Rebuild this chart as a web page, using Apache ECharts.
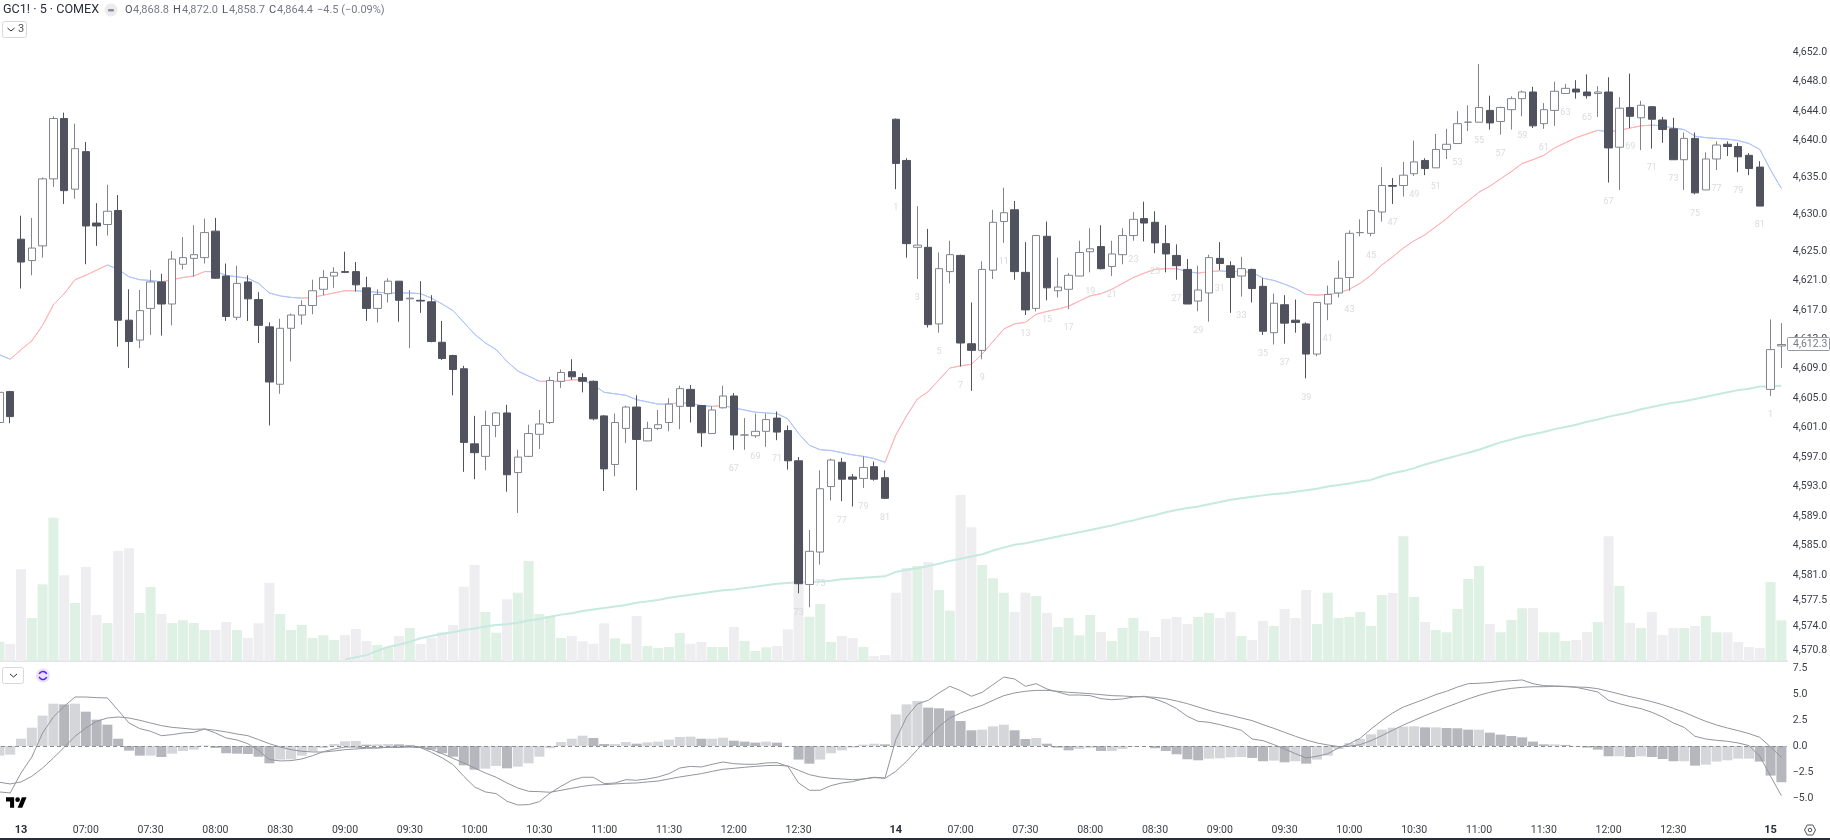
<!DOCTYPE html>
<html><head><meta charset="utf-8">
<style>html,body{margin:0;padding:0;background:#fff}#c{width:1830px;height:840px}</style>
<script src="https://cdn.jsdelivr.net/npm/echarts@6/dist/echarts.min.js"></script>
</head><body><div id="c"></div>
<script>
// rows: [open, close, low, high]
const priorBars = [[4601.7,4605.8,4601.4,4606.2],[4605.9,4602.5,4601.6,4606.0]];
const day13Bars = [
[4626.6,4623.5,4619.9,4629.8],[4623.7,4625.4,4621.7,4629.5],[4625.7,4634.8,4624.1,4635.0],[4634.8,4643.0,4633.7,4643.3],[4643.0,4633.2,4631.4,4643.8],
[4633.4,4638.9,4632.1,4642.3],[4638.5,4628.4,4623.2,4639.8],[4628.8,4628.4,4625.7,4631.5],[4628.6,4630.4,4627.1,4634.0],[4630.5,4615.6,4612.0,4632.6],
[4615.6,4612.7,4609.1,4619.8],[4612.9,4616.9,4611.8,4619.7],[4617.2,4620.8,4613.6,4622.4],[4620.8,4617.8,4613.5,4621.9],[4617.8,4623.9,4614.9,4625.0],
[4623.2,4624.1,4622.5,4626.9],[4624.0,4624.5,4621.5,4628.5],[4624.1,4627.5,4623.3,4629.4],[4627.7,4621.3,4621.2,4629.5],[4621.6,4616.1,4615.5,4623.3],
[4616.0,4620.6,4615.6,4623.0],[4620.8,4618.5,4615.5,4621.7],[4618.4,4614.9,4612.5,4619.4],[4614.7,4607.2,4601.3,4615.3],[4606.9,4614.5,4605.6,4615.8],
[4614.5,4616.3,4610.0,4616.5],[4616.3,4617.6,4615.0,4618.3],[4617.6,4619.6,4616.4,4621.1],[4619.8,4621.4,4619.0,4622.4],[4621.6,4622.1,4620.0,4622.8],
[4622.2,4622.1,4622.0,4624.9],[4622.2,4620.4,4619.5,4623.5],[4620.0,4617.2,4615.5,4621.5],[4617.2,4619.1,4615.3,4619.8],[4619.2,4620.9,4618.0,4621.3],
[4620.9,4618.3,4615.4,4620.9],[4618.5,4618.6,4611.8,4619.7],[4618.3,4618.2,4616.6,4620.9],[4618.1,4612.7,4612.6,4619.0],[4612.6,4610.4,4610.2,4615.5],
[4610.8,4608.9,4605.4,4610.9],[4609.0,4599.0,4595.0,4609.4],[4598.8,4597.6,4594.0,4602.6],[4597.1,4601.3,4595.2,4603.3],[4601.3,4603.0,4599.7,4603.1],
[4603.0,4594.6,4592.3,4604.1],[4594.9,4597.0,4589.4,4598.0],[4597.1,4600.2,4597.0,4601.4],[4600.1,4601.5,4598.1,4603.4],[4601.7,4607.4,4601.5,4607.9],
[4607.3,4608.5,4606.4,4608.9],[4608.6,4607.9,4607.5,4610.3],[4607.8,4607.3,4605.8,4608.4],[4607.3,4602.2,4602.0,4607.4],[4602.6,4595.4,4592.4,4602.7],
[4596.0,4601.7,4594.4,4602.9],[4600.9,4603.8,4598.9,4604.0],[4603.8,4599.4,4592.5,4605.4],[4599.2,4600.9,4599.2,4601.8],[4600.9,4601.4,4600.7,4603.4],
[4601.7,4604.2,4600.5,4605.0],[4603.9,4606.3,4600.8,4606.7],[4606.2,4603.9,4601.7,4606.8],[4604.0,4600.3,4598.4,4604.1],[4600.2,4603.4,4600.2,4603.9],
[4603.7,4605.3,4603.6,4606.7],[4605.3,4600.0,4598.0,4605.7],[4600.0,4600.0,4598.0,4602.3],[4599.9,4600.5,4599.6,4602.9],[4600.5,4602.1,4598.4,4602.9],
[4602.3,4600.4,4599.3,4603.2],[4600.6,4596.5,4595.3,4601.3],[4596.5,4579.8,4578.5,4597.0],[4579.7,4584.2,4576.6,4587.1],[4584.1,4592.7,4582.4,4595.2],
[4593.0,4596.6,4591.1,4596.8],[4596.3,4594.0,4591.0,4596.9],[4594.3,4594.0,4590.3,4594.7],[4594.1,4595.6,4592.8,4597.1],[4595.7,4594.0,4593.8,4596.4],
[4594.2,4591.4,4591.3,4595.2]];
const day14Bars = [
[4642.9,4636.9,4633.4,4643.0],[4637.3,4626.0,4624.1,4637.6],[4625.5,4625.8,4621.2,4631.1],[4625.5,4615.0,4614.6,4628.0],[4615.1,4622.6,4613.9,4624.8],
[4622.2,4624.5,4620.6,4626.4],[4624.4,4612.5,4609.3,4624.5],[4612.4,4611.5,4606.0,4618.0],[4611.5,4622.5,4610.3,4623.6],[4622.4,4628.9,4621.2,4630.6],
[4629.0,4630.2,4626.1,4633.6],[4630.6,4622.2,4621.1,4631.8],[4622.1,4617.0,4616.3,4626.2],[4617.2,4627.1,4616.8,4627.2],[4627.0,4620.0,4618.3,4629.0],
[4619.6,4620.1,4618.7,4624.1],[4619.8,4621.7,4617.1,4622.0],[4621.6,4624.8,4621.6,4626.4],[4624.9,4625.3,4622.1,4628.1],[4625.6,4622.6,4622.5,4628.5],
[4622.9,4624.6,4621.6,4626.4],[4624.5,4627.1,4623.2,4628.1],[4627.1,4629.3,4626.4,4630.3],[4629.4,4628.8,4626.3,4631.7],[4628.9,4626.1,4624.7,4630.4],
[4626.0,4624.6,4622.1,4628.5],[4624.4,4623.0,4621.1,4625.9],[4622.5,4617.8,4617.8,4623.9],[4618.2,4619.7,4616.8,4623.0],[4619.3,4624.1,4615.4,4624.5],
[4624.0,4623.3,4622.4,4626.2],[4623.0,4621.4,4616.6,4623.6],[4621.6,4622.6,4618.8,4624.2],[4622.5,4619.9,4618.0,4622.6],[4620.2,4614.1,4613.6,4621.3],
[4613.9,4617.9,4612.3,4619.2],[4617.7,4615.2,4612.4,4619.0],[4615.6,4615.3,4613.9,4618.4],[4615.1,4611.0,4607.7,4615.3],[4611.0,4618.0,4610.7,4618.1],
[4617.8,4619.1,4615.6,4620.3],[4619.3,4621.3,4618.7,4623.7],[4621.4,4627.4,4619.6,4627.8],[4627.5,4627.5,4627.0,4629.3],[4627.4,4630.5,4627.0,4630.6],
[4630.3,4633.9,4629.0,4636.4],[4633.9,4633.8,4631.4,4634.9],[4633.9,4635.3,4632.4,4637.1],[4635.5,4637.1,4635.2,4640.0],[4637.3,4636.2,4635.3,4637.6],
[4636.3,4638.8,4636.3,4640.9],[4638.8,4639.5,4637.5,4641.6],[4639.6,4642.3,4639.6,4644.0],[4642.5,4642.5,4641.3,4644.8],[4642.5,4644.5,4642.5,4650.4],
[4644.1,4642.4,4641.5,4646.1],[4642.6,4644.5,4640.8,4644.6],[4644.2,4645.7,4641.5,4646.0],[4645.7,4646.6,4643.3,4646.8],[4646.6,4642.0,4641.7,4647.3],
[4642.3,4644.2,4641.6,4645.1],[4644.1,4646.7,4642.0,4648.0],[4646.4,4647.1,4646.4,4647.7],[4647.0,4646.6,4645.7,4648.2],[4646.6,4646.1,4645.7,4649.0],
[4646.4,4646.6,4643.2,4647.4],[4646.6,4639.0,4634.3,4648.6],[4639.1,4644.4,4633.3,4645.9],[4644.5,4643.3,4641.7,4649.1],[4643.1,4644.8,4638.7,4645.4],
[4644.6,4642.9,4638.9,4644.7],[4642.8,4641.5,4639.7,4643.2],[4641.6,4637.4,4637.4,4643.1],[4637.4,4640.3,4633.3,4641.1],[4640.3,4632.9,4632.7,4641.1],
[4633.3,4637.5,4633.3,4638.4],[4637.5,4639.4,4636.0,4639.9],[4639.5,4639.2,4637.9,4639.9],[4639.2,4637.8,4635.7,4639.7],[4638.0,4636.2,4635.3,4638.3],
[4636.4,4631.1,4631.1,4637.2]];
const day15Bars = [[4606.2,4611.6,4605.3,4615.7],[4612.1,4612.3,4609.1,4615.2]];

const volume = [19.3,17,91.7,43,76.7,143.3,85.7,58,94,46,38,110,112.7,48,74,47,38,40.7,38,31,31,39,31,23,37.7,78,47,31,36,23,25.7,21,26,32,20,16,13.7,25,33,17,23.3,28.7,36,74.3,96,49,28.3,61.7,68.3,100,47,45,23,25,19.7,17.3,37.7,22.7,17.3,45,15,13,14,28,17.3,19,14,14,34,20,10,13.7,15,31.7,117.7,44.3,57,19,25,23,14,5,6,68.3,93,95,99,71,50.3,166,133.7,96,82.7,68.3,49,68.3,65,48,34,43,25.7,46,29,20,33,43,30,24,42,44,37,44,48,43,49,25,21,40,35,52,43,71,37,68.3,43,44,49,35,66,68,124.7,64,39,31,28.7,52,82,95,37,28.7,41,52.7,53,28.7,28.7,20,21,29,39,124.7,75,38,33,49,26,33,33,35,45,28.7,28.7,19,14,13,79,40.7];

const shortMA = [4610.9,4610.3,4611.6,4612.8,4614.9,4617.7,4619.2,4621.1,4621.7,4622.4,4623.1,4622.5,4621.5,4621.1,4621.0,4620.8,4621.1,4621.4,4621.6,4622.2,4622.2,4621.7,4621.5,4621.3,4620.6,4619.3,4618.9,4618.7,4618.6,4618.7,4619.0,4619.3,4619.6,4619.6,4619.5,4619.4,4619.3,4619.3,4619.3,4619.2,4618.6,4617.8,4616.9,4615.3,4613.7,4612.5,4611.6,4610.0,4608.7,4608.0,4607.3,4607.3,4607.3,4607.5,4607.5,4606.8,4605.8,4605.6,4605.4,4604.8,4604.5,4604.2,4604.2,4604.4,4604.3,4604.0,4603.9,4604.0,4603.7,4603.4,4603.1,4603.0,4602.9,4602.2,4600.2,4598.6,4598.0,4597.9,4597.6,4597.3,4597.1,4596.8,4596.3,
4600.0,4602.6,4604.9,4605.9,4607.5,4609.1,4609.4,4609.6,4611.0,4612.7,4614.4,4615.1,4615.3,4616.4,4616.8,4617.1,4617.5,4618.2,4618.9,4619.2,4619.8,4620.6,4621.4,4622.0,4622.5,4622.6,4622.6,4622.2,4622.0,4622.2,4622.3,4622.2,4622.2,4622.1,4621.3,4621.0,4620.5,4619.9,4619.1,4619.0,4619.1,4619.3,4619.8,4620.6,4621.7,4623.1,4624.2,4625.4,4626.4,4627.2,4628.3,4629.4,4630.7,4631.8,4633.0,4633.8,4634.8,4635.8,4636.9,4637.4,4638.0,4639.0,4639.7,4640.4,4640.9,4641.4,4641.2,4641.4,4641.7,4642.0,4642.1,4642.0,4641.7,4641.5,4640.6,4640.4,4640.3,4640.2,4640.0,4639.6,4638.8,4636.0,4633.5];
// index ranges of shortMA drawn in red (price above it); the rest is blue
const shortMARedRanges = [[1,10],[15,19],[28,33],[50,54],[62,63],[66,67],[82,109],[111,113],[114,116],[121,148],[149,153]];

const longMAStart = 32;
const longMA = [4569.5,4569.8,4570.1,4570.7,4571.2,4571.5,4571.9,4572.4,4572.7,4573.0,4573.2,4573.5,4573.7,4574.0,4574.2,4574.3,4574.5,4574.8,4575.0,4575.3,4575.6,4575.8,4576.1,4576.3,4576.5,4576.7,4576.9,4577.2,4577.4,4577.6,4577.9,4578.1,4578.3,4578.5,4578.7,4578.9,4579.0,4579.2,4579.4,4579.6,4579.8,4579.9,4580.0,4580.0,4580.1,4580.2,4580.4,4580.5,4580.6,4580.7,4580.8,4581.4,4581.7,4581.9,4582.2,4582.5,4582.9,4583.2,4583.5,4583.8,4584.3,4584.7,4585.1,4585.3,4585.6,4585.9,4586.2,4586.5,4586.8,4587.1,4587.4,4587.7,4588.1,4588.4,4588.8,4589.1,4589.5,4589.8,4590.1,4590.3,4590.6,4590.9,4591.2,4591.4,4591.6,4591.8,4592.0,4592.1,4592.3,4592.5,4592.7,4593.0,4593.2,4593.4,4593.7,4593.9,4594.4,4594.8,4595.1,4595.5,4596.0,4596.4,4596.8,4597.2,4597.6,4598.0,4598.5,4599.0,4599.4,4599.8,4600.1,4600.4,4600.8,4601.1,4601.4,4601.8,4602.1,4602.5,4602.8,4603.1,4603.5,4603.8,4604.1,4604.4,4604.6,4604.9,4605.2,4605.5,4605.8,4606.1,4606.3,4606.6,4606.6,4606.7];

const macdHist = [-0.93,-0.83,0.7,1.76,2.92,4.07,4.0,4.07,3.3,2.53,2.05,0.7,-0.45,-0.93,-0.93,-1.06,-0.74,-0.48,-0.35,0.05,-0.19,-0.7,-0.74,-0.77,-1.03,-1.67,-1.31,-1.28,-0.93,-0.54,-0.19,0.19,0.45,0.48,0.13,0.16,0.19,0.16,0.1,-0.19,-0.35,-0.7,-1.03,-1.86,-2.28,-2.18,-1.92,-2.15,-1.99,-1.67,-1.03,-0.22,0.38,0.7,0.99,0.77,0.19,0.19,0.38,0.22,0.35,0.42,0.61,0.87,0.9,0.7,0.7,0.8,0.51,0.42,0.32,0.42,0.32,-0.03,-1.31,-1.7,-1.31,-0.7,-0.42,-0.16,0.13,0.22,0.16,3.04,4.0,4.33,3.69,3.62,3.4,2.4,1.51,1.57,1.89,2.05,1.51,0.67,0.77,0.22,-0.16,-0.42,-0.29,-0.19,-0.48,-0.48,-0.29,-0.06,0,-0.22,-0.48,-0.8,-1.28,-1.38,-1.22,-1.19,-1.09,-1.06,-1.15,-1.47,-1.41,-1.57,-1.47,-1.7,-1.31,-0.93,-0.29,0.29,0.67,1.12,1.57,1.76,1.86,1.89,1.79,1.79,1.73,1.7,1.57,1.57,1.28,1.09,0.96,0.83,0.42,0.16,0.16,0.1,-0.03,-0.16,-0.35,-0.99,-0.99,-1.06,-0.99,-1.06,-1.25,-1.47,-1.47,-1.89,-1.79,-1.5,-1.38,-1.22,-1.22,-1.5,-2.85,-3.49];
const macdFast = [-4.42,-4.52,-2.6,-1.06,1.25,2.79,3.81,4.71,4.71,4.65,4.62,3.43,2.21,1.67,1.41,0.99,1.09,1.25,1.31,1.63,1.25,0.77,0.58,0.22,-0.42,-1.31,-1.44,-1.41,-1.25,-0.93,-0.54,-0.29,-0.1,-0.1,-0.16,-0.19,-0.1,-0.1,-0.06,-0.16,-0.61,-1.15,-1.79,-2.92,-3.94,-4.42,-4.58,-5.32,-5.67,-5.64,-5.35,-4.52,-3.88,-3.3,-3.01,-3.01,-3.62,-3.56,-3.24,-3.3,-3.17,-2.98,-2.66,-2.12,-1.96,-2.02,-1.76,-1.54,-1.7,-1.76,-1.76,-1.63,-1.6,-1.96,-3.56,-4.26,-4.26,-3.81,-3.56,-3.43,-3.17,-3.01,-3.08,0.61,2.79,4.04,4.39,5.1,5.74,5.32,4.78,5.16,5.9,6.63,6.44,5.74,5.99,5.48,5.19,4.9,4.9,4.84,4.55,4.45,4.52,4.71,4.78,4.52,4.13,3.59,2.85,2.37,2.28,2.05,1.79,1.51,0.67,0.51,0.13,-0.29,-0.74,-1.15,-0.99,-0.74,-0.19,0.22,0.74,1.63,2.44,3.17,3.75,4.13,4.52,4.94,5.26,5.67,5.99,6.03,6.09,6.22,6.28,6.35,5.99,5.8,5.77,5.74,5.64,5.42,5.19,4.39,4.07,3.81,3.59,3.24,2.79,2.21,1.79,0.93,0.67,0.54,0.45,0.29,0.03,-0.99,-2.92,-4.78];
const macdSlow = [-3.49,-3.65,-3.46,-2.92,-2.12,-1.15,-0.13,0.93,1.73,2.37,2.69,2.79,2.69,2.47,2.21,1.96,1.79,1.7,1.6,1.63,1.51,1.35,1.15,0.99,0.61,0.22,-0.1,-0.35,-0.51,-0.58,-0.58,-0.48,-0.35,-0.29,-0.22,-0.19,-0.13,-0.13,-0.1,-0.13,-0.35,-0.74,-1.19,-1.63,-2.12,-2.6,-3.01,-3.56,-4.04,-4.36,-4.39,-4.45,-4.26,-4.07,-3.88,-3.75,-3.72,-3.65,-3.59,-3.56,-3.46,-3.37,-3.17,-2.98,-2.82,-2.66,-2.44,-2.24,-2.15,-2.05,-1.96,-1.89,-1.86,-1.92,-2.34,-2.76,-2.98,-3.11,-3.17,-3.24,-3.17,-3.04,-3.11,-2.44,-1.47,-0.35,0.77,1.89,2.69,3.17,3.56,3.91,4.39,4.84,5.1,5.26,5.35,5.35,5.26,5.16,5.1,5.03,4.94,4.84,4.81,4.74,4.74,4.68,4.55,4.33,4.07,3.75,3.43,3.17,2.95,2.69,2.44,2.05,1.7,1.31,0.93,0.58,0.29,0.1,-0.06,-0.03,0.13,0.51,0.99,1.51,2.02,2.47,2.92,3.33,3.75,4.13,4.52,4.87,5.16,5.38,5.54,5.64,5.7,5.7,5.74,5.7,5.67,5.64,5.51,5.26,5.0,4.74,4.52,4.26,3.97,3.62,3.24,2.79,2.37,2.02,1.73,1.47,1.19,0.83,-0.1,-1.09];

const priceTicks = [4652,4648,4644,4640,4635,4630,4625,4621,4617,4613,4609,4605,4601,4597,4593,4589,4585,4581,4577.5,4574,4570.8];
const macdTicks = [7.5,5,2.5,0,-2.5,-5];
const dayLabels = ['13','14','15'];
const sessionTicks = ['','07:00','07:30','08:00','08:30','09:00','09:30','10:00','10:30','11:00','11:30','12:00','12:30'];
const lastPrice = 4612.3;
const firstNumberedBarDay13 = 67;

const candles = [].concat(priorBars, day13Bars, day14Bars, day15Bars);
const timeLabels = [];
const numbers = [];
priorBars.forEach(() => timeLabels.push(''));
[day13Bars, day14Bars, day15Bars].forEach((bars, d) => bars.forEach((b, i) => {
  const idx = timeLabels.length;
  let t = '';
  if (i % 6 === 0) { const s = sessionTicks[i / 6]; t = i === 0 ? dayLabels[d] : (s || ''); }
  timeLabels.push(t);
  const n = i + 1;
  if (n % 2 === 1 && (d > 0 || n >= firstNumberedBarDay13) && !(d === 2 && n > 1)) numbers.push({ value: [idx, b[2]], n });
}));

const UP = '#ffffff', DOWN = '#50535e', UPB = '#82858f', DOWNB = '#50535e';
const volGreen = '#dff0e4', volGrey = '#eeeef0';
const FONT = 'Roboto, Inter, sans-serif';
const TXT = '#3c3f48';
const LSZ = 10.5;
const MACD_LINE = '#93959d';

const volData = volume.map((v, i) => ({ value: v, itemStyle: { color: candles[i][1] >= candles[i][0] ? volGreen : volGrey } }));
const histData = macdHist.map((v, i) => ({ value: v, itemStyle: { color: (i === 0 || v >= macdHist[i - 1]) ? '#d4d6da' : '#b5b7bd' } }));
const longData = candles.map((_, i) => i < longMAStart ? null : longMA[i - longMAStart]);

const chart = echarts.init(document.getElementById('c'), null, { renderer: 'canvas' });
const gridLeft = -6, gridW = 1792.8;
chart.setOption({
  animation: false,
  backgroundColor: '#ffffff',
  textStyle: { fontFamily: FONT },
  grid: [
    { left: gridLeft, width: gridW, top: 0, height: 661, outerBoundsMode: 'none', containLabel: false },
    { left: gridLeft, width: gridW, top: 663, height: 154, outerBoundsMode: 'none', containLabel: false }
  ],
  xAxis: [
    { type: 'category', gridIndex: 0, data: timeLabels, boundaryGap: true,
      axisLine: { show: true, lineStyle: { color: '#e0e3eb', width: 2 } }, axisTick: { show: false }, axisLabel: { show: false }, splitLine: { show: false } },
    { type: 'category', gridIndex: 1, data: timeLabels, boundaryGap: true, position: 'bottom',
      axisLine: { show: false, onZero: false }, axisTick: { show: false }, splitLine: { show: false },
      axisLabel: { show: true, interval: (i, v) => v !== '', margin: 8, color: TXT, fontSize: LSZ, fontFamily: FONT, hideOverlap: false,
        formatter: v => v.indexOf(':') >= 0 ? v : '{d|' + v + '}', rich: { d: { fontWeight: 700, fontSize: 11, color: '#2a2e39', fontFamily: FONT } } } }
  ],
  yAxis: [
    { type: 'value', gridIndex: 0, position: 'right', min: 4569.3, max: 4659.1, scale: true,
      axisLine: { show: false }, axisTick: { show: false }, splitLine: { show: false },
      axisLabel: { show: true, customValues: priceTicks, margin: 6, color: TXT, fontSize: LSZ, fontFamily: FONT,
        formatter: v => v.toLocaleString('en-US', { minimumFractionDigits: 1, maximumFractionDigits: 1 }) } },
    { type: 'value', gridIndex: 0, min: 0, max: 661, show: false, splitLine: { show: false } },
    { type: 'value', gridIndex: 1, position: 'right', min: -6.83, max: 7.98,
      axisLine: { show: false }, axisTick: { show: false }, splitLine: { show: false },
      axisLabel: { show: true, customValues: macdTicks, margin: 6, color: TXT, fontSize: LSZ, fontFamily: FONT,
        formatter: v => (v < 0 ? '\u2212' : '') + Math.abs(v).toFixed(1) } }
  ],
  visualMap: [{
    show: false, type: 'piecewise', seriesIndex: 2, dimension: 0,
    pieces: shortMARedRanges.map(r => ({ gte: r[0], lte: r[1], color: '#ffb3b5' })),
    outOfRange: { color: '#aec4fb' }
  }],
  series: [
    { name: 'Volume', type: 'bar', xAxisIndex: 0, yAxisIndex: 1, data: volData, barWidth: 10, z: 1, silent: true },
    { name: 'GC1!', type: 'candlestick', xAxisIndex: 0, yAxisIndex: 0, data: candles, barWidth: 8, z: 4,
      itemStyle: { color: UP, color0: DOWN, borderColor: UPB, borderColor0: DOWNB, borderWidth: 1 } },
    { name: 'Short MA', type: 'line', xAxisIndex: 0, yAxisIndex: 0, data: shortMA, symbol: 'none', z: 3, lineStyle: { width: 1 } },
    { name: 'Long MA', type: 'line', xAxisIndex: 0, yAxisIndex: 0, data: longData, symbol: 'none', z: 3, lineStyle: { width: 2, color: '#c6e9e0' }, itemStyle: { color: '#c6e9e0' } },
    { name: 'Bar numbers', type: 'scatter', xAxisIndex: 0, yAxisIndex: 0, data: numbers, symbolSize: 0, z: 5, silent: true,
      label: { show: true, position: 'inside', offset: [0, 19], color: '#d0d2d6', fontSize: 9, fontFamily: FONT, formatter: p => String(p.data.n) } },
    { name: 'MACD hist', type: 'bar', xAxisIndex: 1, yAxisIndex: 2, data: histData, barWidth: 10, z: 1, silent: true,
      markLine: { silent: true, symbol: 'none', label: { show: false }, lineStyle: { color: '#8a8c95', type: [4, 3], width: 1 }, data: [{ yAxis: 0 }] } },
    { name: 'MACD', type: 'line', xAxisIndex: 1, yAxisIndex: 2, data: macdFast, symbol: 'none', z: 3, lineStyle: { width: 1, color: MACD_LINE }, itemStyle: { color: MACD_LINE } },
    { name: 'Signal', type: 'line', xAxisIndex: 1, yAxisIndex: 2, data: macdSlow, symbol: 'none', z: 3, lineStyle: { width: 1, color: MACD_LINE }, itemStyle: { color: MACD_LINE } }
  ]
});

const tagY = chart.convertToPixel({ yAxisIndex: 0 }, lastPrice);
const hdr = (x, text, fill, size, w) => ({ type: 'text', x, y: 10, z: 50, style: { text, fill, fontSize: size, fontFamily: FONT, fontWeight: w || 400, verticalAlign: 'middle' } });
const box = (x, y, w, h) => ({ type: 'rect', z: 50, shape: { x, y, width: w, height: h, r: 2 }, style: { fill: '#fff', stroke: '#d6d8de', lineWidth: 1 } });
const chev = (cx, cy) => ({ type: 'polyline', z: 51, shape: { points: [[cx - 3.5, cy - 1.5], [cx, cy + 1.5], [cx + 3.5, cy - 1.5]] }, style: { fill: 'none', stroke: '#2a2e39', lineWidth: 1 } });
const logoP = pts => ({ type: 'polygon', z: 50, shape: { points: pts.map(p => [6 + 0.58 * p[0], 795 + 0.58 * p[1]]) }, style: { fill: '#000' } });
chart.setOption({ graphic: { elements: [
  hdr(3, 'GC1! \u00b7 5 \u00b7 COMEX', '#2a2e39', 12.6),
  { type: 'circle', z: 50, shape: { cx: 111, cy: 10, r: 6.5 }, style: { fill: '#ececee' } },
  { type: 'rect', z: 51, shape: { x: 108, y: 9, width: 6, height: 2.4, r: 1 }, style: { fill: '#8a8c95' } },
  hdr(125, 'O', '#50535e', 11), hdr(133, '4,868.8', '#787b86', 11),
  hdr(173, 'H', '#50535e', 11), hdr(182, '4,872.0', '#787b86', 11),
  hdr(222, 'L', '#50535e', 11), hdr(229, '4,858.7', '#787b86', 11),
  hdr(269, 'C', '#50535e', 11), hdr(277, '4,864.4', '#787b86', 11),
  hdr(317, '\u22124.5 (\u22120.09%)', '#787b86', 11),
  box(2.5, 21.5, 24, 16), chev(11, 29.5),
  { type: 'text', z: 51, x: 18, y: 29, style: { text: '3', fill: '#50535e', fontSize: 11, fontFamily: FONT, verticalAlign: 'middle' } },
  box(2.5, 667.5, 21, 16), chev(13.5, 675.5),
  { type: 'circle', z: 50, shape: { cx: 43, cy: 675.5, r: 7 }, style: { fill: '#e9e2ff' } },
  { type: 'arc', z: 51, shape: { cx: 43, cy: 675.5, r: 4, startAngle: 3.5, endAngle: 5.9 }, style: { stroke: '#5b21f2', fill: 'none', lineWidth: 1.5 } },
  { type: 'arc', z: 51, shape: { cx: 43, cy: 675.5, r: 4, startAngle: 0.4, endAngle: 2.8 }, style: { stroke: '#5b21f2', fill: 'none', lineWidth: 1.5 } },
  logoP([[14,22],[7,22],[7,11],[0,11],[0,4],[14,4]]),
  logoP([[28,22],[20,22],[27.5,4],[35.5,4]]),
  { type: 'circle', z: 50, shape: { cx: 6 + 0.58 * 20, cy: 795 + 0.58 * 8, r: 0.58 * 4 }, style: { fill: '#000' } },
  { type: 'rect', z: 60, shape: { x: 1787.5, y: Math.round(tagY) - 6.5, width: 42, height: 13, r: 1 }, style: { fill: '#fff', stroke: '#9598a1', lineWidth: 1 } },
  { type: 'text', z: 61, x: 1793, y: Math.round(tagY), style: { text: lastPrice.toLocaleString('en-US', { minimumFractionDigits: 1 }), fill: '#787b86', fontSize: LSZ, fontFamily: FONT, verticalAlign: 'middle' } },
  { type: 'polygon', z: 50, shape: { points: [[1804.5, 830], [1807.2, 825], [1812.8, 825], [1815.5, 830], [1812.8, 835], [1807.2, 835]] }, style: { fill: 'none', stroke: '#50535e', lineWidth: 1 } },
  { type: 'circle', z: 50, shape: { cx: 1810, cy: 830, r: 1.8 }, style: { fill: 'none', stroke: '#50535e', lineWidth: 1 } },
  { type: 'rect', z: 60, shape: { x: 0, y: 838, width: 1830, height: 2 }, style: { fill: '#2a2e39' } }
] } });
</script></body></html>
